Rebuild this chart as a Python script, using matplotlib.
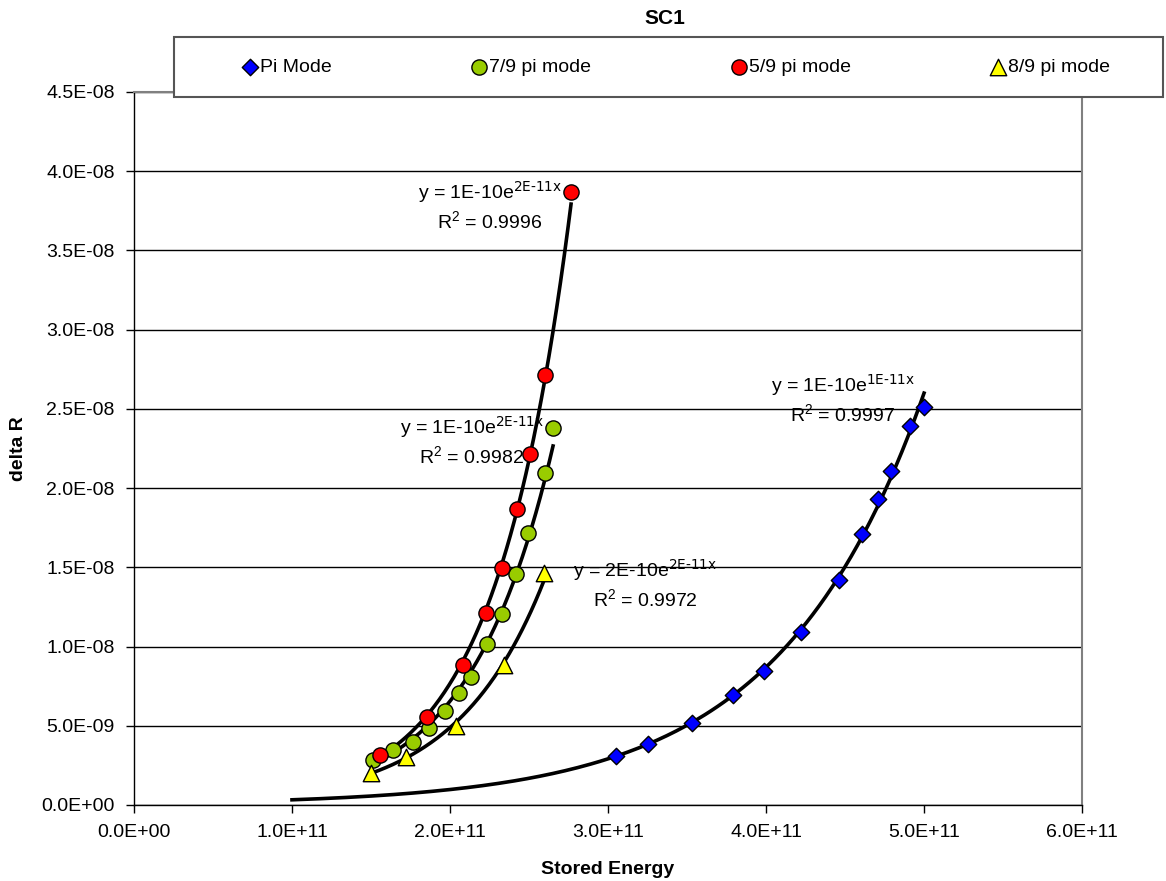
import matplotlib
matplotlib.use("Agg")
import matplotlib.pyplot as plt
import numpy as np
from matplotlib.patches import Rectangle
from matplotlib.ticker import FuncFormatter, MultipleLocator

plt.rcParams["font.family"] = ["Liberation Sans", "DejaVu Sans"]
plt.rcParams["mathtext.default"] = "regular"

# Stored energy (x) and delta R (y)
pi_x = [3.05e11, 3.25e11, 3.53e11, 3.79e11, 3.99e11, 4.22e11, 4.46e11, 4.61e11, 4.71e11, 4.79e11, 4.91e11, 5.00e11]
pi_y = [3.09e-9, 3.85e-9, 5.18e-9, 6.94e-9, 8.46e-9, 10.92e-9, 14.20e-9, 17.11e-9, 19.32e-9, 21.09e-9, 23.93e-9, 25.13e-9]

g_x = [1.513e11, 1.639e11, 1.766e11, 1.867e11, 1.968e11, 2.057e11, 2.133e11, 2.234e11, 2.329e11, 2.418e11, 2.494e11, 2.601e11, 2.652e11]
g_y = [2.84e-9, 3.47e-9, 3.98e-9, 4.86e-9, 5.93e-9, 7.07e-9, 8.08e-9, 10.16e-9, 12.06e-9, 14.58e-9, 17.17e-9, 20.96e-9, 23.80e-9]

r_x = [1.557e11, 1.854e11, 2.082e11, 2.228e11, 2.329e11, 2.424e11, 2.506e11, 2.601e11, 2.766e11]
r_y = [3.16e-9, 5.56e-9, 8.84e-9, 12.12e-9, 14.96e-9, 18.69e-9, 22.16e-9, 27.15e-9, 38.70e-9]

yl_x = [1.50e11, 1.722e11, 2.038e11, 2.342e11, 2.595e11]
yl_y = [2.02e-9, 3.03e-9, 4.99e-9, 8.84e-9, 14.65e-9]

pi_trend_start = 1.0e11

eq_pi = "y = 1E-10e$^{\\text{1E-11x}}$\nR$^{2}$ = 0.9997"
eq_g = "y = 1E-10e$^{\\text{2E-11x}}$\nR$^{2}$ = 0.9982"
eq_r = "y = 1E-10e$^{\\text{2E-11x}}$\nR$^{2}$ = 0.9996"
eq_yl = "y = 2E-10e$^{\\text{2E-11x}}$\nR$^{2}$ = 0.9972"


def exp_trend(x, y, x0=None):
    b, lna = np.polyfit(x, np.log(y), 1)
    lo = min(x) if x0 is None else x0
    xs = np.linspace(lo, max(x), 200)
    return xs, np.exp(lna) * np.exp(b * xs)


fig = plt.figure(figsize=(11.66, 8.81), dpi=100)
ax = fig.add_axes([0.1149, 0.0863, 0.8131, 0.8093])

for xs, ys, x0 in [(pi_x, pi_y, pi_trend_start), (g_x, g_y, None), (r_x, r_y, None), (yl_x, yl_y, None)]:
    tx, ty = exp_trend(xs, ys, x0)
    ax.plot(tx, ty, color="black", lw=2.6, zorder=3)

ax.scatter(pi_x, pi_y, marker="D", s=70, c="#0000FF", edgecolors="black", linewidths=1, zorder=4, label="Pi Mode")
ax.scatter(g_x, g_y, marker="o", s=120, c="#99CC00", edgecolors="black", linewidths=1, zorder=4, label="7/9 pi mode")
ax.scatter(r_x, r_y, marker="o", s=120, c="#FF0000", edgecolors="black", linewidths=1, zorder=4, label="5/9 pi mode")
ax.scatter(yl_x, yl_y, marker="^", s=140, c="#FFFF00", edgecolors="black", linewidths=1, zorder=4, label="8/9 pi mode")

kw = dict(ha="center", va="center", fontsize=14, linespacing=1.3, zorder=5)
ax.text(2.253e11, 37.8e-9, eq_r, **kw)
ax.text(2.139e11, 22.98e-9, eq_g, **kw)
ax.text(3.234e11, 13.95e-9, eq_yl, **kw)
ax.text(4.487e11, 25.6e-9, eq_pi, **kw)

ax.set_xlim(0, 6e11)
ax.set_ylim(0, 4.5e-8)
ax.xaxis.set_major_locator(MultipleLocator(1e11))
ax.yaxis.set_major_locator(MultipleLocator(5e-9))
fmt = FuncFormatter(lambda v, p: f"{v:.1E}")
ax.xaxis.set_major_formatter(fmt)
ax.yaxis.set_major_formatter(fmt)
ax.tick_params(direction="out", length=6, width=1, labelsize=14, pad=8)
ax.grid(axis="y", color="black", lw=1)
ax.set_axisbelow(True)
for s in ["top", "right"]:
    ax.spines[s].set_color("#808080")
    ax.spines[s].set_linewidth(1.5)
for s in ["left", "bottom"]:
    ax.spines[s].set_color("black")
    ax.spines[s].set_linewidth(1)

ax.set_xlabel("Stored Energy", fontsize=14, fontweight="bold", labelpad=14)
ax.set_ylabel("delta R", fontsize=14, fontweight="bold", labelpad=10)

fig.text(0.570, 0.979, "SC1", ha="center", va="center", fontsize=15, fontweight="bold")

# legend box drawn separately, entries spread across it
box = Rectangle((0.149, 0.8899), 0.848, 0.068, transform=fig.transFigure, facecolor="white",
                edgecolor="#555555", lw=1.5, zorder=10)
fig.add_artist(box)
leg = fig.legend(loc="center", ncol=4, bbox_to_anchor=(0.580, 0.924), fontsize=14, frameon=False,
                 handletextpad=0.1, handlelength=0.8, columnspacing=7.2, scatterpoints=1, borderaxespad=0)
leg.set_zorder(11)

fig.savefig("out.png", dpi=100)
